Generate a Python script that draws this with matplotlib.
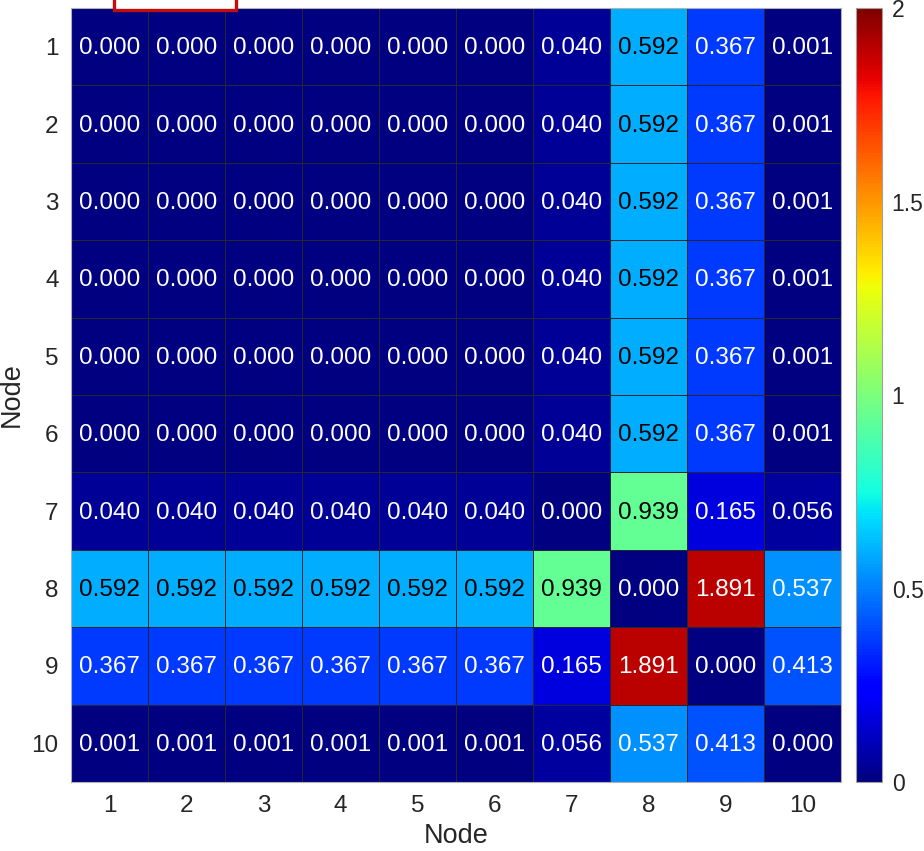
import numpy as np
import matplotlib
matplotlib.use("Agg")
import matplotlib.pyplot as plt
from matplotlib.patches import Rectangle

plt.rcParams['font.family'] = ['Liberation Sans', 'DejaVu Sans']

nodes = ["1", "2", "3", "4", "5", "6", "7", "8", "9", "10"]
values = [
    [0.000, 0.000, 0.000, 0.000, 0.000, 0.000, 0.040, 0.592, 0.367, 0.001],
    [0.000, 0.000, 0.000, 0.000, 0.000, 0.000, 0.040, 0.592, 0.367, 0.001],
    [0.000, 0.000, 0.000, 0.000, 0.000, 0.000, 0.040, 0.592, 0.367, 0.001],
    [0.000, 0.000, 0.000, 0.000, 0.000, 0.000, 0.040, 0.592, 0.367, 0.001],
    [0.000, 0.000, 0.000, 0.000, 0.000, 0.000, 0.040, 0.592, 0.367, 0.001],
    [0.000, 0.000, 0.000, 0.000, 0.000, 0.000, 0.040, 0.592, 0.367, 0.001],
    [0.040, 0.040, 0.040, 0.040, 0.040, 0.040, 0.000, 0.939, 0.165, 0.056],
    [0.592, 0.592, 0.592, 0.592, 0.592, 0.592, 0.939, 0.000, 1.891, 0.537],
    [0.367, 0.367, 0.367, 0.367, 0.367, 0.367, 0.165, 1.891, 0.000, 0.413],
    [0.001, 0.001, 0.001, 0.001, 0.001, 0.001, 0.056, 0.537, 0.413, 0.000],
]
cbar_ticks = [0, 0.5, 1, 1.5, 2]

W, H = 924, 851
fig = plt.figure(figsize=(W / 100, H / 100), dpi=100)

def px_axes(l, t, r, b):
    return fig.add_axes([l / W, 1 - b / H, (r - l) / W, (b - t) / H])

ax = px_axes(71, 8, 841, 782)
cax = px_axes(856, 8, 882, 782)

data = np.array(values)
n = len(nodes)
cmap = plt.get_cmap('jet')
norm = matplotlib.colors.Normalize(vmin=0, vmax=2)

mesh = ax.pcolormesh(np.arange(n + 1) + 0.5, np.arange(n + 1) + 0.5, data,
                     cmap=cmap, norm=norm, edgecolors='#262633', linewidth=0.6)
ax.set_xlim(0.5, n + 0.5)
ax.set_ylim(n + 0.5, 0.5)

for i in range(n):
    for j in range(n):
        v = data[i, j]
        r, g, b, _ = cmap(norm(v))
        lum = 0.2126 * r + 0.7152 * g + 0.0722 * b
        color = 'black' if lum > 0.5 else 'white'
        ax.text(j + 1, i + 1.02, f"{v:.3f}", ha='center', va='center',
                fontsize=17.5, color=color)

ax.set_xticks(np.arange(1, n + 1))
ax.set_xticklabels(nodes)
ax.set_yticks(np.arange(1, n + 1))
ax.set_yticklabels(nodes)
ax.tick_params(length=0, labelsize=17.5, colors='#262626', pad=9)
for s in ax.spines.values():
    s.set_color('#b0b0b0')
    s.set_linewidth(0.8)
ax.set_xlabel("Node", fontsize=19.5, color='#262626', labelpad=5)
ax.set_ylabel("Node", fontsize=19.5, color='#262626', labelpad=5)

cb = fig.colorbar(mesh, cax=cax, ticks=cbar_ticks)
cb.ax.set_yticklabels(["0", "0.5", "1", "1.5", "2"])
cb.ax.tick_params(length=0, labelsize=16.5, colors='#262626', pad=7)
cb.outline.set_edgecolor('#a0a0a0')
cb.outline.set_linewidth(0.8)

# highlight frame at the top edge
fig.patches.append(Rectangle((114 / W, 1 - 10 / H), 122 / W, 0.05,
                             transform=fig.transFigure, facecolor='white',
                             edgecolor='#c40c0c', linewidth=2.4, zorder=5))

fig.savefig("out.png", dpi=100)
